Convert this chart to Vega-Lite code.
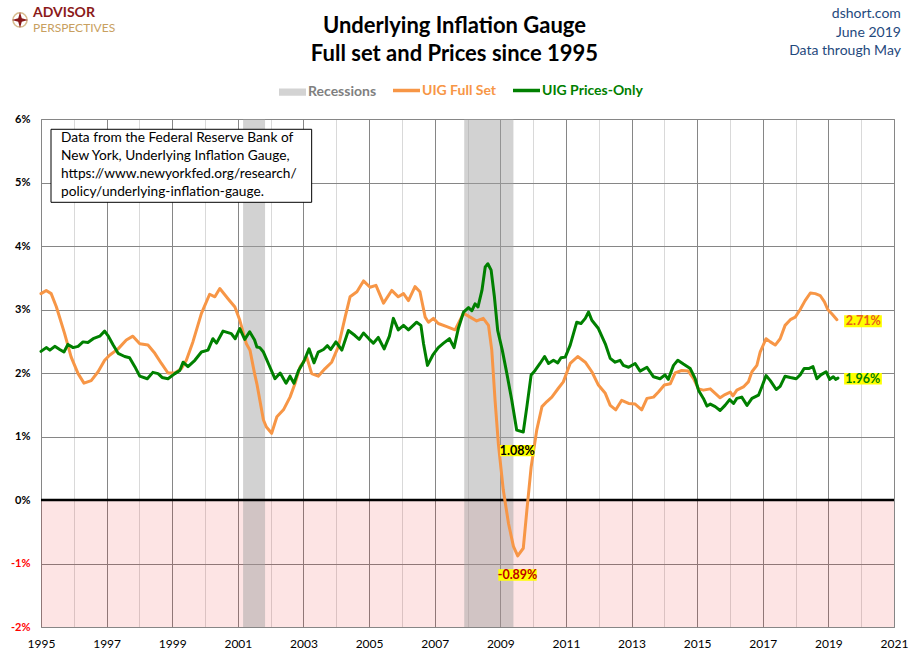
{
  "$schema": "https://vega.github.io/schema/vega-lite/v6.json",
  "width": 853,
  "height": 508,
  "autosize": {"type": "none"},
  "padding": {"left": 41, "top": 119, "right": 16, "bottom": 34},
  "background": "white",
  "config": {"font": "Lato", "view": {"stroke": "#868686", "strokeWidth": 1}},
  "datasets": {
    "uig": [
      {"t":1995.00,"v":3.25,"s":"UIG Full Set"},{"t":1995.16,"v":3.30,"s":"UIG Full Set"},{"t":1995.31,"v":3.25,"s":"UIG Full Set"},{"t":1995.47,"v":3.04,"s":"UIG Full Set"},{"t":1995.72,"v":2.62,"s":"UIG Full Set"},{"t":1995.92,"v":2.25,"s":"UIG Full Set"},{"t":1996.13,"v":1.99,"s":"UIG Full Set"},{"t":1996.31,"v":1.84,"s":"UIG Full Set"},{"t":1996.53,"v":1.88,"s":"UIG Full Set"},{"t":1996.74,"v":2.02,"s":"UIG Full Set"},{"t":1996.94,"v":2.20,"s":"UIG Full Set"},{"t":1997.09,"v":2.28,"s":"UIG Full Set"},{"t":1997.35,"v":2.38,"s":"UIG Full Set"},{"t":1997.60,"v":2.52,"s":"UIG Full Set"},{"t":1997.80,"v":2.58,"s":"UIG Full Set"},{"t":1998.01,"v":2.46,"s":"UIG Full Set"},{"t":1998.26,"v":2.44,"s":"UIG Full Set"},{"t":1998.47,"v":2.31,"s":"UIG Full Set"},{"t":1998.67,"v":2.15,"s":"UIG Full Set"},{"t":1998.87,"v":2.00,"s":"UIG Full Set"},{"t":1999.08,"v":2.00,"s":"UIG Full Set"},{"t":1999.28,"v":2.07,"s":"UIG Full Set"},{"t":1999.43,"v":2.20,"s":"UIG Full Set"},{"t":1999.63,"v":2.49,"s":"UIG Full Set"},{"t":1999.89,"v":2.94,"s":"UIG Full Set"},{"t":2000.14,"v":3.24,"s":"UIG Full Set"},{"t":2000.30,"v":3.20,"s":"UIG Full Set"},{"t":2000.45,"v":3.33,"s":"UIG Full Set"},{"t":2000.70,"v":3.17,"s":"UIG Full Set"},{"t":2000.91,"v":3.04,"s":"UIG Full Set"},{"t":2001.06,"v":2.83,"s":"UIG Full Set"},{"t":2001.26,"v":2.46,"s":"UIG Full Set"},{"t":2001.37,"v":2.36,"s":"UIG Full Set"},{"t":2001.51,"v":1.99,"s":"UIG Full Set"},{"t":2001.58,"v":1.83,"s":"UIG Full Set"},{"t":2001.78,"v":1.26,"s":"UIG Full Set"},{"t":2001.87,"v":1.15,"s":"UIG Full Set"},{"t":2002.03,"v":1.05,"s":"UIG Full Set"},{"t":2002.19,"v":1.31,"s":"UIG Full Set"},{"t":2002.39,"v":1.42,"s":"UIG Full Set"},{"t":2002.59,"v":1.62,"s":"UIG Full Set"},{"t":2002.74,"v":1.83,"s":"UIG Full Set"},{"t":2002.90,"v":2.10,"s":"UIG Full Set"},{"t":2003.10,"v":2.25,"s":"UIG Full Set"},{"t":2003.25,"v":1.99,"s":"UIG Full Set"},{"t":2003.45,"v":1.95,"s":"UIG Full Set"},{"t":2003.66,"v":2.07,"s":"UIG Full Set"},{"t":2003.86,"v":2.17,"s":"UIG Full Set"},{"t":2004.06,"v":2.41,"s":"UIG Full Set"},{"t":2004.27,"v":2.88,"s":"UIG Full Set"},{"t":2004.42,"v":3.20,"s":"UIG Full Set"},{"t":2004.63,"v":3.28,"s":"UIG Full Set"},{"t":2004.83,"v":3.45,"s":"UIG Full Set"},{"t":2005.03,"v":3.35,"s":"UIG Full Set"},{"t":2005.21,"v":3.38,"s":"UIG Full Set"},{"t":2005.44,"v":3.10,"s":"UIG Full Set"},{"t":2005.69,"v":3.30,"s":"UIG Full Set"},{"t":2005.89,"v":3.20,"s":"UIG Full Set"},{"t":2006.05,"v":3.25,"s":"UIG Full Set"},{"t":2006.20,"v":3.14,"s":"UIG Full Set"},{"t":2006.40,"v":3.36,"s":"UIG Full Set"},{"t":2006.55,"v":3.28,"s":"UIG Full Set"},{"t":2006.71,"v":2.88,"s":"UIG Full Set"},{"t":2006.81,"v":2.80,"s":"UIG Full Set"},{"t":2006.96,"v":2.86,"s":"UIG Full Set"},{"t":2007.11,"v":2.78,"s":"UIG Full Set"},{"t":2007.37,"v":2.73,"s":"UIG Full Set"},{"t":2007.62,"v":2.68,"s":"UIG Full Set"},{"t":2007.88,"v":2.94,"s":"UIG Full Set"},{"t":2008.08,"v":2.88,"s":"UIG Full Set"},{"t":2008.28,"v":2.82,"s":"UIG Full Set"},{"t":2008.48,"v":2.86,"s":"UIG Full Set"},{"t":2008.64,"v":2.75,"s":"UIG Full Set"},{"t":2008.74,"v":2.36,"s":"UIG Full Set"},{"t":2008.84,"v":1.57,"s":"UIG Full Set"},{"t":2008.94,"v":0.89,"s":"UIG Full Set"},{"t":2009.09,"v":0.16,"s":"UIG Full Set"},{"t":2009.25,"v":-0.37,"s":"UIG Full Set"},{"t":2009.40,"v":-0.73,"s":"UIG Full Set"},{"t":2009.53,"v":-0.88,"s":"UIG Full Set"},{"t":2009.70,"v":-0.76,"s":"UIG Full Set"},{"t":2009.81,"v":-0.16,"s":"UIG Full Set"},{"t":2009.94,"v":0.52,"s":"UIG Full Set"},{"t":2010.11,"v":1.10,"s":"UIG Full Set"},{"t":2010.27,"v":1.47,"s":"UIG Full Set"},{"t":2010.42,"v":1.55,"s":"UIG Full Set"},{"t":2010.57,"v":1.62,"s":"UIG Full Set"},{"t":2010.77,"v":1.76,"s":"UIG Full Set"},{"t":2010.92,"v":1.86,"s":"UIG Full Set"},{"t":2011.13,"v":2.15,"s":"UIG Full Set"},{"t":2011.36,"v":2.26,"s":"UIG Full Set"},{"t":2011.59,"v":2.17,"s":"UIG Full Set"},{"t":2011.79,"v":2.02,"s":"UIG Full Set"},{"t":2011.99,"v":1.81,"s":"UIG Full Set"},{"t":2012.20,"v":1.68,"s":"UIG Full Set"},{"t":2012.35,"v":1.49,"s":"UIG Full Set"},{"t":2012.52,"v":1.42,"s":"UIG Full Set"},{"t":2012.70,"v":1.57,"s":"UIG Full Set"},{"t":2012.91,"v":1.52,"s":"UIG Full Set"},{"t":2013.11,"v":1.51,"s":"UIG Full Set"},{"t":2013.31,"v":1.42,"s":"UIG Full Set"},{"t":2013.47,"v":1.60,"s":"UIG Full Set"},{"t":2013.67,"v":1.62,"s":"UIG Full Set"},{"t":2013.82,"v":1.70,"s":"UIG Full Set"},{"t":2014.00,"v":1.81,"s":"UIG Full Set"},{"t":2014.18,"v":1.83,"s":"UIG Full Set"},{"t":2014.33,"v":2.00,"s":"UIG Full Set"},{"t":2014.53,"v":2.04,"s":"UIG Full Set"},{"t":2014.73,"v":2.03,"s":"UIG Full Set"},{"t":2014.89,"v":1.91,"s":"UIG Full Set"},{"t":2015.04,"v":1.75,"s":"UIG Full Set"},{"t":2015.19,"v":1.73,"s":"UIG Full Set"},{"t":2015.40,"v":1.75,"s":"UIG Full Set"},{"t":2015.55,"v":1.68,"s":"UIG Full Set"},{"t":2015.70,"v":1.61,"s":"UIG Full Set"},{"t":2015.85,"v":1.66,"s":"UIG Full Set"},{"t":2016.01,"v":1.70,"s":"UIG Full Set"},{"t":2016.09,"v":1.64,"s":"UIG Full Set"},{"t":2016.21,"v":1.73,"s":"UIG Full Set"},{"t":2016.41,"v":1.78,"s":"UIG Full Set"},{"t":2016.56,"v":1.86,"s":"UIG Full Set"},{"t":2016.67,"v":2.02,"s":"UIG Full Set"},{"t":2016.82,"v":2.12,"s":"UIG Full Set"},{"t":2016.92,"v":2.33,"s":"UIG Full Set"},{"t":2017.10,"v":2.54,"s":"UIG Full Set"},{"t":2017.23,"v":2.49,"s":"UIG Full Set"},{"t":2017.38,"v":2.44,"s":"UIG Full Set"},{"t":2017.53,"v":2.54,"s":"UIG Full Set"},{"t":2017.68,"v":2.75,"s":"UIG Full Set"},{"t":2017.84,"v":2.84,"s":"UIG Full Set"},{"t":2017.99,"v":2.88,"s":"UIG Full Set"},{"t":2018.14,"v":3.00,"s":"UIG Full Set"},{"t":2018.29,"v":3.14,"s":"UIG Full Set"},{"t":2018.45,"v":3.26,"s":"UIG Full Set"},{"t":2018.60,"v":3.25,"s":"UIG Full Set"},{"t":2018.75,"v":3.22,"s":"UIG Full Set"},{"t":2018.88,"v":3.12,"s":"UIG Full Set"},{"t":2018.98,"v":3.00,"s":"UIG Full Set"},{"t":2019.11,"v":2.93,"s":"UIG Full Set"},{"t":2019.26,"v":2.84,"s":"UIG Full Set"},
      {"t":1995.00,"v":2.34,"s":"UIG Prices-Only"},{"t":1995.16,"v":2.40,"s":"UIG Prices-Only"},{"t":1995.27,"v":2.36,"s":"UIG Prices-Only"},{"t":1995.42,"v":2.42,"s":"UIG Prices-Only"},{"t":1995.57,"v":2.37,"s":"UIG Prices-Only"},{"t":1995.70,"v":2.33,"s":"UIG Prices-Only"},{"t":1995.82,"v":2.45,"s":"UIG Prices-Only"},{"t":1995.98,"v":2.40,"s":"UIG Prices-Only"},{"t":1996.13,"v":2.42,"s":"UIG Prices-Only"},{"t":1996.28,"v":2.49,"s":"UIG Prices-Only"},{"t":1996.43,"v":2.48,"s":"UIG Prices-Only"},{"t":1996.59,"v":2.54,"s":"UIG Prices-Only"},{"t":1996.79,"v":2.58,"s":"UIG Prices-Only"},{"t":1996.94,"v":2.66,"s":"UIG Prices-Only"},{"t":1997.04,"v":2.59,"s":"UIG Prices-Only"},{"t":1997.20,"v":2.44,"s":"UIG Prices-Only"},{"t":1997.35,"v":2.31,"s":"UIG Prices-Only"},{"t":1997.55,"v":2.26,"s":"UIG Prices-Only"},{"t":1997.70,"v":2.24,"s":"UIG Prices-Only"},{"t":1997.86,"v":2.10,"s":"UIG Prices-Only"},{"t":1998.01,"v":1.95,"s":"UIG Prices-Only"},{"t":1998.24,"v":1.91,"s":"UIG Prices-Only"},{"t":1998.41,"v":2.01,"s":"UIG Prices-Only"},{"t":1998.57,"v":1.99,"s":"UIG Prices-Only"},{"t":1998.69,"v":1.93,"s":"UIG Prices-Only"},{"t":1998.87,"v":1.91,"s":"UIG Prices-Only"},{"t":1999.08,"v":1.99,"s":"UIG Prices-Only"},{"t":1999.23,"v":2.04,"s":"UIG Prices-Only"},{"t":1999.33,"v":2.17,"s":"UIG Prices-Only"},{"t":1999.48,"v":2.10,"s":"UIG Prices-Only"},{"t":1999.69,"v":2.20,"s":"UIG Prices-Only"},{"t":1999.89,"v":2.33,"s":"UIG Prices-Only"},{"t":2000.09,"v":2.36,"s":"UIG Prices-Only"},{"t":2000.24,"v":2.54,"s":"UIG Prices-Only"},{"t":2000.35,"v":2.47,"s":"UIG Prices-Only"},{"t":2000.55,"v":2.66,"s":"UIG Prices-Only"},{"t":2000.80,"v":2.62,"s":"UIG Prices-Only"},{"t":2000.92,"v":2.54,"s":"UIG Prices-Only"},{"t":2001.06,"v":2.70,"s":"UIG Prices-Only"},{"t":2001.21,"v":2.53,"s":"UIG Prices-Only"},{"t":2001.36,"v":2.65,"s":"UIG Prices-Only"},{"t":2001.51,"v":2.52,"s":"UIG Prices-Only"},{"t":2001.58,"v":2.41,"s":"UIG Prices-Only"},{"t":2001.67,"v":2.40,"s":"UIG Prices-Only"},{"t":2001.78,"v":2.33,"s":"UIG Prices-Only"},{"t":2001.93,"v":2.15,"s":"UIG Prices-Only"},{"t":2002.13,"v":1.91,"s":"UIG Prices-Only"},{"t":2002.29,"v":2.00,"s":"UIG Prices-Only"},{"t":2002.47,"v":1.84,"s":"UIG Prices-Only"},{"t":2002.59,"v":1.95,"s":"UIG Prices-Only"},{"t":2002.71,"v":1.84,"s":"UIG Prices-Only"},{"t":2002.85,"v":2.04,"s":"UIG Prices-Only"},{"t":2003.00,"v":2.17,"s":"UIG Prices-Only"},{"t":2003.17,"v":2.38,"s":"UIG Prices-Only"},{"t":2003.32,"v":2.16,"s":"UIG Prices-Only"},{"t":2003.45,"v":2.33,"s":"UIG Prices-Only"},{"t":2003.61,"v":2.37,"s":"UIG Prices-Only"},{"t":2003.73,"v":2.43,"s":"UIG Prices-Only"},{"t":2003.83,"v":2.37,"s":"UIG Prices-Only"},{"t":2003.99,"v":2.49,"s":"UIG Prices-Only"},{"t":2004.17,"v":2.36,"s":"UIG Prices-Only"},{"t":2004.37,"v":2.67,"s":"UIG Prices-Only"},{"t":2004.57,"v":2.59,"s":"UIG Prices-Only"},{"t":2004.70,"v":2.53,"s":"UIG Prices-Only"},{"t":2004.83,"v":2.63,"s":"UIG Prices-Only"},{"t":2005.01,"v":2.53,"s":"UIG Prices-Only"},{"t":2005.13,"v":2.47,"s":"UIG Prices-Only"},{"t":2005.28,"v":2.56,"s":"UIG Prices-Only"},{"t":2005.46,"v":2.38,"s":"UIG Prices-Only"},{"t":2005.62,"v":2.58,"s":"UIG Prices-Only"},{"t":2005.74,"v":2.86,"s":"UIG Prices-Only"},{"t":2005.89,"v":2.68,"s":"UIG Prices-Only"},{"t":2006.05,"v":2.75,"s":"UIG Prices-Only"},{"t":2006.20,"v":2.68,"s":"UIG Prices-Only"},{"t":2006.45,"v":2.80,"s":"UIG Prices-Only"},{"t":2006.58,"v":2.75,"s":"UIG Prices-Only"},{"t":2006.66,"v":2.46,"s":"UIG Prices-Only"},{"t":2006.78,"v":2.12,"s":"UIG Prices-Only"},{"t":2006.94,"v":2.28,"s":"UIG Prices-Only"},{"t":2007.11,"v":2.40,"s":"UIG Prices-Only"},{"t":2007.27,"v":2.47,"s":"UIG Prices-Only"},{"t":2007.45,"v":2.54,"s":"UIG Prices-Only"},{"t":2007.59,"v":2.40,"s":"UIG Prices-Only"},{"t":2007.72,"v":2.70,"s":"UIG Prices-Only"},{"t":2007.88,"v":2.96,"s":"UIG Prices-Only"},{"t":2008.03,"v":3.03,"s":"UIG Prices-Only"},{"t":2008.13,"v":2.98,"s":"UIG Prices-Only"},{"t":2008.23,"v":3.09,"s":"UIG Prices-Only"},{"t":2008.32,"v":3.04,"s":"UIG Prices-Only"},{"t":2008.44,"v":3.30,"s":"UIG Prices-Only"},{"t":2008.54,"v":3.67,"s":"UIG Prices-Only"},{"t":2008.62,"v":3.72,"s":"UIG Prices-Only"},{"t":2008.72,"v":3.62,"s":"UIG Prices-Only"},{"t":2008.82,"v":3.20,"s":"UIG Prices-Only"},{"t":2008.92,"v":2.67,"s":"UIG Prices-Only"},{"t":2009.06,"v":2.36,"s":"UIG Prices-Only"},{"t":2009.20,"v":1.99,"s":"UIG Prices-Only"},{"t":2009.35,"v":1.57,"s":"UIG Prices-Only"},{"t":2009.50,"v":1.10,"s":"UIG Prices-Only"},{"t":2009.70,"v":1.07,"s":"UIG Prices-Only"},{"t":2009.81,"v":1.47,"s":"UIG Prices-Only"},{"t":2009.94,"v":1.97,"s":"UIG Prices-Only"},{"t":2010.06,"v":2.04,"s":"UIG Prices-Only"},{"t":2010.21,"v":2.15,"s":"UIG Prices-Only"},{"t":2010.35,"v":2.26,"s":"UIG Prices-Only"},{"t":2010.47,"v":2.15,"s":"UIG Prices-Only"},{"t":2010.62,"v":2.20,"s":"UIG Prices-Only"},{"t":2010.75,"v":2.16,"s":"UIG Prices-Only"},{"t":2010.85,"v":2.24,"s":"UIG Prices-Only"},{"t":2010.98,"v":2.25,"s":"UIG Prices-Only"},{"t":2011.13,"v":2.44,"s":"UIG Prices-Only"},{"t":2011.33,"v":2.80,"s":"UIG Prices-Only"},{"t":2011.46,"v":2.78,"s":"UIG Prices-Only"},{"t":2011.59,"v":2.86,"s":"UIG Prices-Only"},{"t":2011.69,"v":2.96,"s":"UIG Prices-Only"},{"t":2011.79,"v":2.83,"s":"UIG Prices-Only"},{"t":2011.99,"v":2.70,"s":"UIG Prices-Only"},{"t":2012.20,"v":2.46,"s":"UIG Prices-Only"},{"t":2012.35,"v":2.23,"s":"UIG Prices-Only"},{"t":2012.50,"v":2.17,"s":"UIG Prices-Only"},{"t":2012.65,"v":2.20,"s":"UIG Prices-Only"},{"t":2012.75,"v":2.12,"s":"UIG Prices-Only"},{"t":2012.91,"v":2.09,"s":"UIG Prices-Only"},{"t":2013.11,"v":2.15,"s":"UIG Prices-Only"},{"t":2013.26,"v":2.03,"s":"UIG Prices-Only"},{"t":2013.47,"v":2.09,"s":"UIG Prices-Only"},{"t":2013.67,"v":1.94,"s":"UIG Prices-Only"},{"t":2013.87,"v":1.91,"s":"UIG Prices-Only"},{"t":2014.02,"v":1.97,"s":"UIG Prices-Only"},{"t":2014.12,"v":1.90,"s":"UIG Prices-Only"},{"t":2014.28,"v":2.12,"s":"UIG Prices-Only"},{"t":2014.41,"v":2.20,"s":"UIG Prices-Only"},{"t":2014.58,"v":2.14,"s":"UIG Prices-Only"},{"t":2014.79,"v":2.07,"s":"UIG Prices-Only"},{"t":2014.94,"v":1.91,"s":"UIG Prices-Only"},{"t":2015.04,"v":1.73,"s":"UIG Prices-Only"},{"t":2015.19,"v":1.60,"s":"UIG Prices-Only"},{"t":2015.30,"v":1.48,"s":"UIG Prices-Only"},{"t":2015.40,"v":1.51,"s":"UIG Prices-Only"},{"t":2015.55,"v":1.47,"s":"UIG Prices-Only"},{"t":2015.70,"v":1.41,"s":"UIG Prices-Only"},{"t":2015.85,"v":1.49,"s":"UIG Prices-Only"},{"t":2015.99,"v":1.58,"s":"UIG Prices-Only"},{"t":2016.11,"v":1.52,"s":"UIG Prices-Only"},{"t":2016.21,"v":1.60,"s":"UIG Prices-Only"},{"t":2016.36,"v":1.62,"s":"UIG Prices-Only"},{"t":2016.52,"v":1.49,"s":"UIG Prices-Only"},{"t":2016.67,"v":1.60,"s":"UIG Prices-Only"},{"t":2016.87,"v":1.65,"s":"UIG Prices-Only"},{"t":2016.97,"v":1.78,"s":"UIG Prices-Only"},{"t":2017.10,"v":1.96,"s":"UIG Prices-Only"},{"t":2017.23,"v":1.88,"s":"UIG Prices-Only"},{"t":2017.41,"v":1.74,"s":"UIG Prices-Only"},{"t":2017.53,"v":1.79,"s":"UIG Prices-Only"},{"t":2017.68,"v":1.95,"s":"UIG Prices-Only"},{"t":2017.84,"v":1.93,"s":"UIG Prices-Only"},{"t":2018.02,"v":1.91,"s":"UIG Prices-Only"},{"t":2018.14,"v":1.97,"s":"UIG Prices-Only"},{"t":2018.26,"v":2.07,"s":"UIG Prices-Only"},{"t":2018.40,"v":2.07,"s":"UIG Prices-Only"},{"t":2018.53,"v":2.10,"s":"UIG Prices-Only"},{"t":2018.65,"v":1.91,"s":"UIG Prices-Only"},{"t":2018.77,"v":1.97,"s":"UIG Prices-Only"},{"t":2018.93,"v":2.02,"s":"UIG Prices-Only"},{"t":2019.04,"v":1.90,"s":"UIG Prices-Only"},{"t":2019.15,"v":1.94,"s":"UIG Prices-Only"},{"t":2019.22,"v":1.90,"s":"UIG Prices-Only"},{"t":2019.29,"v":1.92,"s":"UIG Prices-Only"}
    ],
    "recessions": [
      {"t": 2001.16, "t2": 2001.83, "v": 6, "v2": -2, "s": "Recessions"},
      {"t": 2007.90, "t2": 2009.40, "v": 6, "v2": -2, "s": "Recessions"}
    ],
    "negative": [{"t": 1995, "t2": 2021, "v": 0, "v2": -2}],
    "zero": [{"t": 1995, "t2": 2021, "v": 0}],
    "callouts": [
      {"t": 2020.06, "v": 2.815, "t1": 2019.48, "t2": 2020.63, "v1": 2.72, "v2": 2.91, "text": "2.71%", "k": "full_last"},
      {"t": 2020.05, "v": 1.91, "t1": 2019.48, "t2": 2020.63, "v1": 1.82, "v2": 2.00, "text": "1.96%", "k": "prices_last"},
      {"t": 2009.515, "v": 0.775, "t1": 2008.99, "t2": 2010.04, "v1": 0.69, "v2": 0.865, "text": "1.08%", "k": "prices_min"},
      {"t": 2009.525, "v": -1.18, "t1": 2008.94, "t2": 2010.11, "v1": -1.27, "v2": -1.09, "text": "-0.89%", "k": "full_min"}
    ],
    "notebox": [{"t": 1995.305, "t2": 2003.25, "v": 5.838, "v2": 4.688}],
    "note": [
      {"t": 1995.61, "v": 5.696, "text": "Data from the Federal Reserve Bank of"},
      {"t": 1995.61, "v": 5.413, "text": "New York, Underlying Inflation Gauge,"},
      {"t": 1995.61, "v": 5.129, "text": "https://www.newyorkfed.org/research/"},
      {"t": 1995.61, "v": 4.846, "text": "policy/underlying-inflation-gauge."}
    ],
    "title": [
      {"t": 2007.603, "v": 7.47, "text": "Underlying Inflation Gauge"},
      {"t": 2007.603, "v": 7.02, "text": "Full set and Prices since 1995"}
    ],
    "source": [
      {"t": 2021.21, "v": 7.654, "text": "dshort.com"},
      {"t": 2021.21, "v": 7.35, "text": "June 2019"},
      {"t": 2021.21, "v": 7.07, "text": "Data through May"}
    ],
    "logo1": [{"t": 1994.756, "v": 7.665, "text": "ADVISOR"}],
    "logo2": [{"t": 1994.756, "v": 7.44, "text": "PERSPECTIVES"}],
    "logomark": [{"t": 1994.36, "v": 7.56}]
  },
  "encoding": {
    "x": {
      "field": "t", "type": "quantitative",
      "scale": {"domain": [1995, 2021], "nice": false, "zero": false},
      "axis": {
        "title": null,
        "values": [1995,1996,1997,1998,1999,2000,2001,2002,2003,2004,2005,2006,2007,2008,2009,2010,2011,2012,2013,2014,2015,2016,2017,2018,2019,2020,2021],
        "format": "d",
        "labelExpr": "datum.value % 2 == 1 ? datum.label : ''",
        "grid": true,
        "gridColor": {"condition": {"test": "datum.value % 2 == 0", "value": "#d9d9d9"}, "value": "#868686"},
        "gridWidth": 1,
        "ticks": false,
        "domain": false,
        "labelFont": "Lato",
        "labelFontSize": 12,
        "labelColor": "#000000",
        "labelPadding": 11,
        "labelFlush": false,
        "labelOverlap": false
      }
    },
    "y": {
      "field": "v", "type": "quantitative",
      "scale": {"domain": [-2, 6], "nice": false, "zero": false},
      "axis": {
        "title": null,
        "values": [-2,-1,0,1,2,3,4,5,6],
        "labelExpr": "datum.value + '%'",
        "grid": true,
        "gridColor": "#868686",
        "gridWidth": 1,
        "ticks": false,
        "domain": false,
        "labelFont": "Lato",
        "labelFontSize": 11,
        "labelFontWeight": "bold",
        "labelColor": {"condition": {"test": "datum.value < 0", "value": "#ff0000"}, "value": "#000000"},
        "labelPadding": 11,
        "labelFlush": false,
        "labelOverlap": false
      }
    }
  },
  "layer": [
    {
      "data": {"name": "negative"},
      "mark": {"type": "rect", "fill": "#ec0000", "opacity": 0.105},
      "encoding": {"x2": {"field": "t2"}, "y2": {"field": "v2"}}
    },
    {
      "data": {"name": "recessions"},
      "mark": {"type": "rect", "fill": "#a1a1a1", "opacity": 0.48},
      "encoding": {"x2": {"field": "t2"}, "y2": {"field": "v2"}}
    },
    {
      "data": {"name": "zero"},
      "mark": {"type": "rule", "color": "#000000", "strokeWidth": 2.5},
      "encoding": {"x2": {"field": "t2"}}
    },
    {
      "data": {"name": "uig"},
      "mark": {"type": "line", "strokeWidth": 3, "strokeJoin": "round", "strokeCap": "round"},
      "encoding": {
        "color": {
          "field": "s", "type": "nominal",
          "scale": {"domain": ["Recessions", "UIG Full Set", "UIG Prices-Only"], "range": ["#d3d3d3", "#f79646", "#008000"]},
          "legend": {
            "title": null,
            "orient": "none",
            "legendX": 238,
            "legendY": -40,
            "direction": "horizontal",
            "symbolType": "stroke",
            "symbolSize": 729,
            "symbolStrokeWidth": 3.5,
            "labelFont": "Lato",
            "labelFontSize": 14,
            "labelFontWeight": "bold",
            "labelOffset": 2,
            "columnPadding": 9,
            "encode": {
              "symbols": {"update": {
                "x": {"value": 13.5},
                "y": {"signal": "datum.index === 0 ? 13 : 8"},
                "shape": {"signal": "datum.value === 'Recessions' ? 'M-0.87,-0.13H0.87V0.13H-0.87Z' : 'stroke'"},
                "stroke": {"signal": "scale('color', datum.value)"},
                "fill": {"signal": "datum.value === 'Recessions' ? scale('color', datum.value) : 'transparent'"},
                "strokeCap": {"value": "butt"},
                "strokeJoin": {"value": "miter"},
                "opacity": {"value": 1}
              }},
              "labels": {"update": {
                "x": {"value": 29},
                "y": {"signal": "datum.index === 0 ? 13 : 8"},
                "align": {"value": "left"},
                "baseline": {"value": "middle"},
                "fill": {"signal": "datum.value === 'Recessions' ? '#808080' : scale('color', datum.value)"}
              }}
            }
          }
        }
      }
    },
    {
      "data": {"name": "callouts"},
      "mark": {"type": "rect", "fill": "#ffff00"},
      "encoding": {
        "x": {"field": "t1", "type": "quantitative"},
        "x2": {"field": "t2"},
        "y": {"field": "v1", "type": "quantitative"},
        "y2": {"field": "v2"}
      }
    },
    {
      "data": {"name": "callouts"},
      "mark": {"type": "text", "font": "Lato", "fontSize": 12.5, "fontWeight": "bold", "align": "center", "baseline": "middle"},
      "encoding": {
        "text": {"field": "text"},
        "fill": {
          "field": "k", "type": "nominal", "legend": null,
          "scale": {"domain": ["full_last", "prices_last", "prices_min", "full_min"], "range": ["#e8601c", "#008000", "#000000", "#c00000"]}
        }
      }
    },
    {
      "data": {"name": "notebox"},
      "mark": {"type": "rect", "fill": "#ffffff", "stroke": "#000000", "strokeWidth": 1},
      "encoding": {"x2": {"field": "t2"}, "y2": {"field": "v2"}}
    },
    {
      "data": {"name": "note"},
      "mark": {"type": "text", "font": "Lato", "fontSize": 13.7, "align": "left", "baseline": "middle", "color": "#000000"},
      "encoding": {"text": {"field": "text"}}
    },
    {
      "data": {"name": "title"},
      "mark": {"type": "text", "font": "Lato", "fontSize": 22, "fontWeight": "bold", "align": "center", "baseline": "middle", "color": "#000000"},
      "encoding": {"text": {"field": "text"}}
    },
    {
      "data": {"name": "source"},
      "mark": {"type": "text", "font": "Lato", "fontSize": 14, "align": "right", "baseline": "middle", "color": "#1f497d"},
      "encoding": {"text": {"field": "text"}}
    },
    {
      "data": {"name": "logo1"},
      "mark": {"type": "text", "font": "Lato", "fontSize": 14, "fontWeight": "bold", "align": "left", "baseline": "middle", "color": "#8b1a1a"},
      "encoding": {"text": {"field": "text"}}
    },
    {
      "data": {"name": "logo2"},
      "mark": {"type": "text", "font": "Lato", "fontSize": 12, "align": "left", "baseline": "middle", "color": "#c8a060"},
      "encoding": {"text": {"field": "text"}}
    },
    {
      "data": {"name": "logomark"},
      "mark": {"type": "point", "shape": "circle", "size": 200, "filled": false, "stroke": "#c8a060", "strokeWidth": 1.5},
      "encoding": {}
    },
    {
      "data": {"name": "logomark"},
      "mark": {"type": "point", "shape": "M0,-1L0.22,-0.22L1,0L0.22,0.22L0,1L-0.22,0.22L-1,0L-0.22,-0.22Z", "size": 260, "filled": true, "fill": "#8b1a1a", "strokeWidth": 0, "opacity": 1},
      "encoding": {}
    }
  ]
}
